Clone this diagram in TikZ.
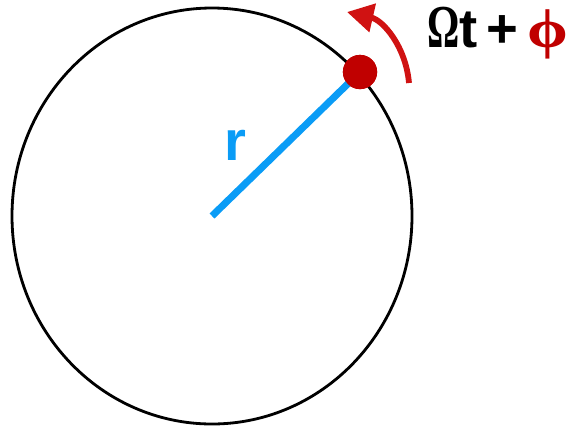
\documentclass[tikz,border=0pt]{standalone}
\usepackage{fontspec}
\setmainfont{Liberation Sans}
\newfontfamily\greekfont{Liberation Serif}
\usepackage{xcolor}
\definecolor{cRadius}{HTML}{0A9CF6}
\definecolor{cPoint}{HTML}{C00000}
\definecolor{cTurn}{HTML}{D01212}
\usetikzlibrary{positioning,arrows.meta}
\tikzset{
  orbit/.style={draw=black,line width=1.6pt},
  radius-line/.style={draw=cRadius,line width=4pt},
  point/.style={circle,fill=cPoint,inner sep=0pt,minimum size=19.5pt},
  turn-arrow/.style={-{Triangle[length=15pt,width=16pt]},draw=cTurn,line width=3.3pt},
  label-r/.style={text=cRadius,font=\fontsize{32}{36}\selectfont\bfseries,inner sep=0pt},
  label-phase/.style={font=\fontsize{31}{36}\selectfont\bfseries,inner sep=0pt,anchor=base west},
}

\begin{document}
\begin{tikzpicture}[x=0.02cm,y=-0.02cm]
  \useasboundingbox (0,0) rectangle (573,427);
  \coordinate (o) at (212,216);
  \draw[orbit] (o) ellipse [x radius=200,y radius=208];
  \node[point] (p) at (360,72) {};
  \draw[radius-line] (o) -- (p.center);
  \node[point] at (p) {};
  \node[label-r] (r) at (235,145) {r};
  \node[label-phase] (phase) at (427,47)
    {\scalebox{0.74}[1.12]{\greekfont\bfseries Ω}t\,+\,\scalebox{1.2}[1]{\greekfont\color{cPoint}ϕ}};
  % arrow of the phase angle
  \coordinate (turn-start) at (409,83);
  \coordinate (turn-end) at (347,12);
  \draw[turn-arrow] (turn-start) to[bend right=36] (turn-end);
\end{tikzpicture}
\end{document}
